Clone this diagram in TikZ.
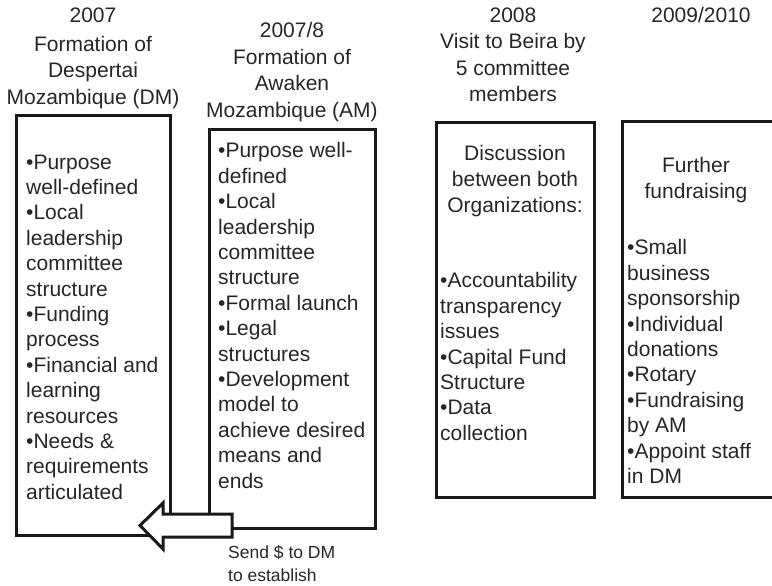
\documentclass[tikz,border=0pt]{standalone}
\usepackage{fontspec}
\setmainfont{Liberation Sans}
\begin{document}
\begin{tikzpicture}[x=1pt,y=-1pt,
  frame/.style={draw=black!90, line width=3pt},
  body/.style={font=\fontsize{21}{25.4}\selectfont, inner sep=0pt, align=left, anchor=north west, text=black!85},
  lead/.style={font=\fontsize{21}{26}\selectfont, inner sep=0pt, align=center, anchor=north, text=black!85},
  head/.style={font=\fontsize{21}{26.5}\selectfont, inner sep=0pt, align=center, anchor=north, text=black!85},
  note/.style={font=\fontsize{17.5}{23}\selectfont, inner sep=0pt, align=left, anchor=north west, text=black!85},
  blockarrow/.style={draw=black!90, line width=3pt, fill=white, line join=miter}
]
\useasboundingbox (0,0) rectangle (772,586);
\clip (0,0) rectangle (772,586);

% column headings
\node[head] (h1) at (93,7.5) {2007\\[2.5pt]Formation of\\Despertai\\Mozambique (DM)};
\node[head] (h2) at (292,22.5) {2007/8\\Formation of\\Awaken\\Mozambique (AM)};
\node[head] (h3) at (513,7.5) {2008\\Visit to Beira by\\5 committee\\members};
\node[head] (h4) at (701,7.5) {2009/2010};

% frames
\draw[frame] (16,116) rectangle (170,535);
\draw[frame] (209,130) rectangle (375,528);
\draw[frame] (436,123) rectangle (594,497);
\draw[frame] (622,122) rectangle (790,497);

% box contents
\node[body] (dm) at (26,154.5) {\textbullet Purpose\\well-defined\\\textbullet Local\\leadership\\committee\\structure\\\textbullet Funding\\process\\\textbullet Financial and\\learning\\resources\\\textbullet Needs \&\\requirements\\articulated};
\node[body] (am) at (218,142.5) {\textbullet Purpose well-\\defined\\\textbullet Local\\leadership\\committee\\structure\\\textbullet Formal launch\\\textbullet Legal\\structures\\\textbullet Development\\model to\\achieve desired\\means and\\ends};
\node[lead] (disc) at (515,145.5) {Discussion\\between both\\Organizations:};
\node[body] (issues) at (440,272.5) {\textbullet Accountability\\transparency\\issues\\\textbullet Capital Fund\\Structure\\\textbullet Data\\collection};
\node[lead] (fund) at (696,157.5) {Further\\fundraising};
\node[body] (ways) at (627,239.5) {\textbullet Small\\business\\sponsorship\\\textbullet Individual\\donations\\\textbullet Rotary\\\textbullet Fundraising\\by AM\\\textbullet Appoint staff\\in DM};

% money sent from AM to DM
\draw[blockarrow] (232,514) -- (163,514) -- (163,503) -- (140,525.5)
  -- (163,549) -- (163,537) -- (232,537) -- cycle;
\node[note] (send) at (228,545) {Send \$ to DM\\to establish};
\end{tikzpicture}
\end{document}
